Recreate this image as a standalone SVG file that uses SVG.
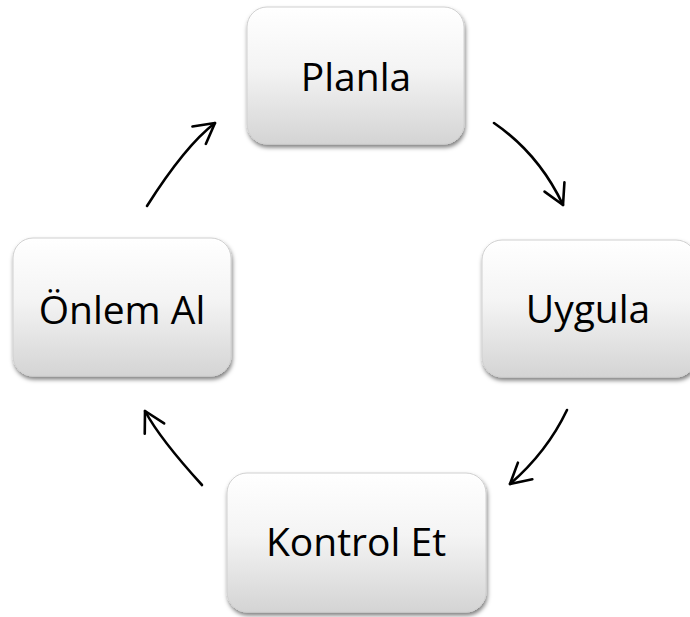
<svg xmlns="http://www.w3.org/2000/svg" width="690" height="617" viewBox="0 0 690 617">
  <defs>
    <linearGradient id="boxFill" x1="0" y1="0" x2="0" y2="1">
      <stop offset="0" stop-color="#ffffff"/>
      <stop offset="0.45" stop-color="#f4f4f4"/>
      <stop offset="1" stop-color="#d4d4d4"/>
    </linearGradient>
    <filter id="shadow" x="-10%" y="-10%" width="125%" height="130%">
      <feDropShadow dx="1" dy="3" stdDeviation="2.2" flood-color="#000" flood-opacity="0.5"/>
    </filter>
    <marker id="arrow" markerUnits="userSpaceOnUse" markerWidth="30" markerHeight="30" viewBox="-25 -15 30 30" refX="0" refY="0" orient="auto">
      <path d="M-20,-11 L0,0 L-20,11" fill="none" stroke="#000" stroke-width="2.6" stroke-linecap="round" stroke-linejoin="round"/>
    </marker>
    <style>
      .box { fill: url(#boxFill); stroke: #d0d0d0; stroke-width: 1; filter: url(#shadow); }
      .label { font-family: "Open Sans", "Noto Sans", sans-serif; font-size: 39px; fill: #000; text-anchor: middle; }
      .conn { fill: none; stroke: #000; stroke-width: 2.6; stroke-linecap: round; marker-end: url(#arrow); }
    </style>
  </defs>

  <g id="connectors">
    <path class="conn" d="M147,206 Q185,146 215,123"/>
    <path class="conn" d="M494,123 Q539,154 563,205"/>
    <path class="conn" d="M567,410 Q547,452 510,484"/>
    <path class="conn" d="M202,485 Q160,439 145,411"/>
  </g>

  <g id="node-planla">
    <rect class="box" x="247" y="7" width="217" height="137" rx="20" ry="20"/>
    <text class="label" x="356" y="91">Planla</text>
  </g>

  <g id="node-uygula">
    <rect class="box" x="482" y="240" width="214" height="137" rx="20" ry="20"/>
    <text class="label" x="588" y="323">Uygula</text>
  </g>

  <g id="node-kontrol">
    <rect class="box" x="227" y="473" width="259" height="139" rx="20" ry="20"/>
    <text class="label" x="356" y="556">Kontrol Et</text>
  </g>

  <g id="node-onlem">
    <rect class="box" x="13" y="238" width="218" height="138" rx="20" ry="20"/>
    <text class="label" x="122" y="324">Önlem Al</text>
  </g>
</svg>
